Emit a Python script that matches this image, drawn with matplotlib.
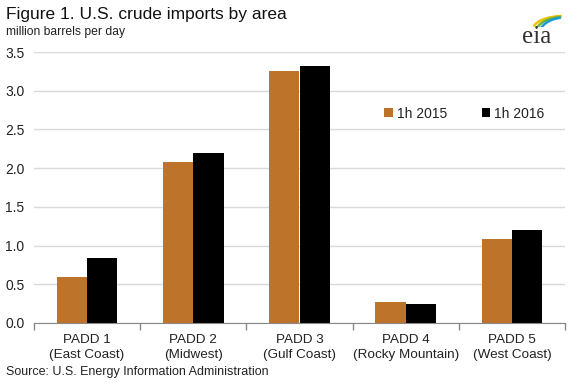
import matplotlib
matplotlib.use("Agg")
import matplotlib.pyplot as plt
import numpy as np
from matplotlib.patches import Arc

plt.rcParams['font.family'] = ['Liberation Sans', 'DejaVu Sans']

categories = ["PADD 1\n(East Coast)", "PADD 2\n(Midwest)", "PADD 3\n(Gulf Coast)",
              "PADD 4\n(Rocky Mountain)", "PADD 5\n(West Coast)"]
series_names = ["1h 2015", "1h 2016"]
values_2015 = [0.60, 2.08, 3.25, 0.27, 1.08]
values_2016 = [0.84, 2.20, 3.32, 0.245, 1.20]
yticks = [0.0, 0.5, 1.0, 1.5, 2.0, 2.5, 3.0, 3.5]

c2015 = "#BD732A"
c2016 = "#000000"

fig = plt.figure(figsize=(5.75, 3.83), dpi=100)
ax = fig.add_axes([34/575, 1-323/383, (565-34)/575, (323-52)/383])

x = np.arange(len(categories))
w = 0.285
ax.bar(x - w/2, values_2015, width=w, color=c2015, label=series_names[0], zorder=3)
ax.bar(x + w/2, values_2016, width=w, color=c2016, label=series_names[1], zorder=3)

ax.set_xlim(-0.5, len(categories) - 0.5)
ax.set_ylim(0, 3.5)
ax.set_yticks(yticks)
ax.set_yticklabels([f"{v:.1f}" for v in yticks], fontsize=10, color="#222222")
ax.yaxis.grid(True, color="#d9d9d9", linewidth=1, zorder=0)
ax.tick_params(axis='y', length=0, pad=7)

ax.set_xticks(np.arange(-0.5, len(categories), 1.0))
ax.set_xticklabels([])
ax.set_xticks(x, minor=True)
ax.set_xticklabels(categories, minor=True, fontsize=9.7, color="#222222", linespacing=1.3)
ax.tick_params(axis='x', which='major', length=5, color="#888888", width=1)
ax.tick_params(axis='x', which='minor', length=0, pad=8)

for s in ["top", "right", "left"]:
    ax.spines[s].set_visible(False)
ax.spines["bottom"].set_color("#888888")
ax.spines["bottom"].set_zorder(4)

leg = ax.legend(loc="upper right", bbox_to_anchor=(0.985, 0.845), ncol=2, frameon=False,
                fontsize=10, handlelength=0.6, handleheight=0.6, handletextpad=0.3,
                columnspacing=2.5)
for t in leg.get_texts():
    t.set_color("#222222")

fig.text(6/575, 1-15/383, "Figure 1. U.S. crude imports by area", fontsize=12.5,
         va="center", ha="left", color="#111111")
fig.text(6/575, 1-32/383, "million barrels per day", fontsize=8.7,
         va="center", ha="left", color="#222222")
fig.text(6/575, 1-372/383, "Source: U.S. Energy Information Administration", fontsize=9,
         va="center", ha="left", color="#222222")

# eia logo
fig.text(537/575, 1-37/383, "eia", fontsize=18, family=["Liberation Serif", "DejaVu Serif"],
         ha="center", va="center", color="#333333")
lax = fig.add_axes([528/575, 1-27/383, 36/575, 17/383])
lax.set_xlim(0, 1); lax.set_ylim(0, 1); lax.axis("off")
for (cx, cy, ww, hh, col) in [(1.0, -0.1, 1.7, 1.5, "#F2C200"), (1.0, -0.3, 1.55, 1.8, "#6DB33F"),
                              (1.0, -0.5, 1.4, 2.1, "#1C9AD6")]:
    lax.add_patch(Arc((cx, cy), ww, hh, theta1=95, theta2=172, color=col, linewidth=1.8))

fig.savefig("out.png", dpi=100)
